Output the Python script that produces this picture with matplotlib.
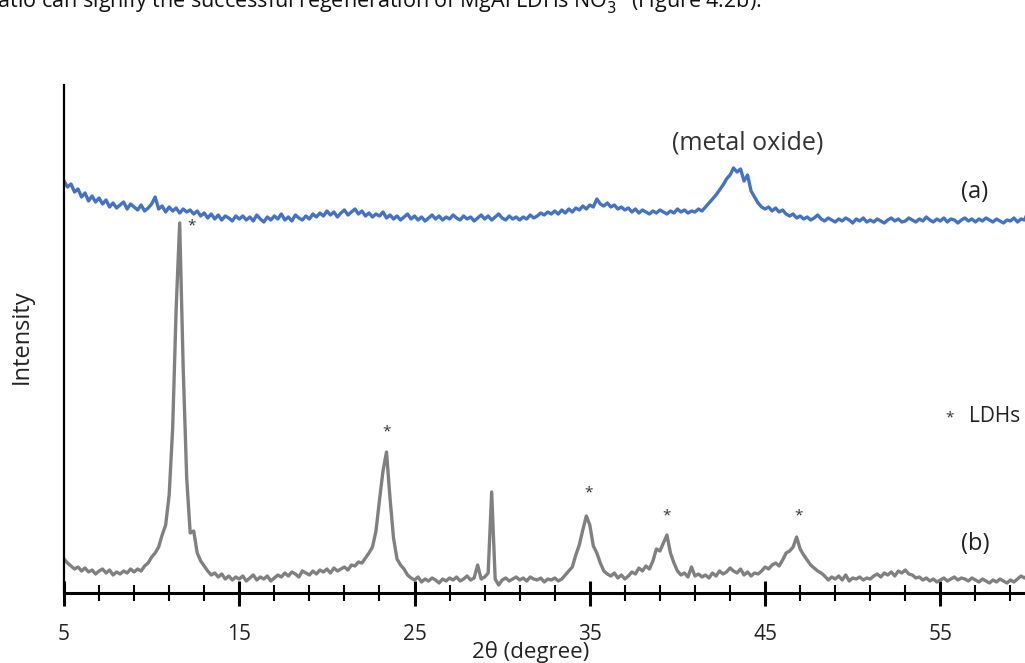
import numpy as np
import matplotlib
matplotlib.use("Agg")
import matplotlib.pyplot as plt
from matplotlib.ticker import FixedLocator

plt.rcParams["font.family"] = ["Open Sans", "DejaVu Sans"]

# 2-theta scan grid, 0.2 degree steps
two_theta = np.round(np.arange(5.0, 60.01, 0.2), 1)

# (b) MgAl LDHs pattern (a.u.)
ldh = [
    34, 30, 27, 24, 26, 22, 25, 21, 23, 19,
    22, 24, 20, 23, 18, 21, 19, 22, 20, 24,
    21, 24, 22, 27, 30, 36, 40, 46, 58, 68,
    98, 165, 285, 370, 225, 115, 60, 62, 40, 32,
    27, 22, 18, 20, 16, 19, 14, 17, 13, 16,
    14, 17, 12, 15, 18, 13, 16, 14, 17, 12,
    15, 18, 16, 20, 17, 21, 19, 16, 22, 20,
    18, 22, 19, 23, 21, 24, 20, 25, 22, 24,
    26, 23, 28, 27, 31, 30, 35, 40, 46, 62,
    93, 122, 141, 95, 55, 34, 28, 24, 18, 15,
    13, 16, 11, 14, 12, 15, 13, 10, 14, 12,
    15, 13, 16, 12, 14, 17, 13, 15, 28, 14,
    16, 20, 101, 14, 8, 13, 15, 12, 14, 16,
    13, 15, 12, 16, 14, 13, 15, 11, 14, 13,
    15, 12, 14, 18, 22, 26, 38, 48, 63, 77,
    68, 47, 40, 30, 22, 19, 17, 20, 15, 18,
    14, 17, 21, 19, 25, 22, 27, 24, 32, 44,
    42, 50, 58, 40, 30, 22, 18, 20, 16, 26,
    17, 19, 16, 18, 15, 20, 17, 22, 19, 21,
    25, 22, 20, 24, 18, 21, 17, 20, 19, 22,
    26, 24, 28, 30, 27, 33, 40, 42, 46, 56,
    44, 38, 33, 28, 25, 22, 20, 17, 13, 16,
    14, 17, 13, 18, 12, 15, 14, 16, 13, 15,
    14, 17, 19, 16, 20, 18, 21, 17, 22, 20,
    23, 19, 18, 15, 16, 13, 15, 12, 14, 11,
    13, 15, 12, 14, 16, 13, 15, 14, 12, 15,
    13, 11, 14, 12, 10, 13, 11, 14, 12, 10,
    13, 11, 14, 17, 15, 18,
]

# (a) calcined sample, metal oxide (a.u., offset)
oxide = [
    412, 406, 409, 401, 404, 396, 400, 392, 397, 391,
    395, 389, 393, 386, 390, 385, 388, 391, 384, 389,
    386, 383, 388, 382, 385, 389, 396, 384, 387, 381,
    386, 382, 385, 380, 384, 381, 383, 379, 382, 377,
    380, 375, 379, 374, 378, 373, 377, 375, 372, 377,
    374, 377, 373, 376, 372, 378, 374, 371, 376, 373,
    377, 374, 379, 373, 376, 372, 378, 375, 373, 377,
    374, 379, 376, 380, 377, 382, 378, 381, 376, 380,
    383, 378, 381, 384, 379, 382, 377, 380, 376, 379,
    377, 381, 375, 378, 374, 377, 373, 376, 379, 374,
    377, 373, 376, 372, 375, 378, 374, 377, 373, 376,
    374, 378, 375, 373, 377, 374, 376, 372, 375, 378,
    374, 377, 373, 376, 379, 375, 373, 377, 374, 376,
    373, 376, 374, 378, 375, 377, 380, 378, 381, 379,
    382, 379, 383, 380, 384, 381, 385, 383, 387, 384,
    388, 386, 394, 389, 387, 390, 386, 388, 384, 386,
    383, 385, 381, 384, 380, 383, 381, 379, 382, 380,
    383, 381, 379, 382, 380, 384, 381, 383, 380, 382,
    381, 384, 382, 386, 390, 394, 398, 403, 408, 414,
    418, 425, 421, 424, 412, 418, 402, 396, 390, 386,
    384, 386, 382, 385, 381, 383, 379, 377, 379, 375,
    377, 374, 376, 373, 375, 378, 374, 372, 375, 373,
    371, 374, 372, 375, 373, 370, 374, 372, 375, 371,
    373, 371, 374, 372, 370, 373, 375, 372, 374, 371,
    372, 375, 373, 371, 374, 372, 376, 373, 371, 374,
    372, 375, 371, 374, 373, 370, 373, 375, 372, 374,
    371, 374, 372, 375, 373, 371, 374, 372, 370, 373,
    372, 375, 371, 374, 373, 381,
]

# LDH reflections marked with an asterisk
star_x = [12.3, 23.4, 34.9, 39.4, 46.9]
star_y = [367, 161, 100, 77, 77]

major_ticks = [5, 15, 25, 35, 45, 55]
minor_ticks = list(range(7, 60, 2))

fig = plt.figure(figsize=(10.25, 6.63), dpi=100)
ax = fig.add_axes([64 / 1025, 70 / 663, 964 / 1025, 508 / 663])

ax.plot(two_theta, oxide, color="#4472C4", lw=2.4)
ax.plot(two_theta, ldh, color="#808080", lw=2.4)

for sx, sy in zip(star_x, star_y):
    ax.text(sx, sy, "*", ha="center", va="center", fontsize=11, color="#333333")

ax.text(44.0, 450, "(metal oxide)", ha="center", va="center", fontsize=18, color="#333333")
ax.text(56.95, 401, "(a)", ha="center", va="center", fontsize=17, color="#222222")
ax.text(57.0, 49, "(b)", ha="center", va="center", fontsize=17, color="#222222")
ax.text(55.5, 175, "*", ha="center", va="center", fontsize=11, color="#333333")
ax.text(56.65, 177, "LDHs", ha="left", va="center", fontsize=15, color="#222222")

ax.set_xlim(5, 60)
ax.set_ylim(0, 508)
ax.xaxis.set_major_locator(FixedLocator(major_ticks))
ax.xaxis.set_minor_locator(FixedLocator(minor_ticks))
ax.tick_params(axis="x", which="major", direction="inout", length=18, width=2.2,
               labelsize=15, pad=13, labelcolor="#222222")
ax.tick_params(axis="x", which="minor", direction="inout", length=12, width=1.5)
ax.set_yticks([])
for side in ["top", "right"]:
    ax.spines[side].set_visible(False)
ax.spines["bottom"].set_linewidth(2.2)
ax.spines["left"].set_linewidth(1.6)

fig.text(531 / 1025, 1 - 652 / 663, "2θ (degree)", ha="center", va="center", fontsize=16, color="#222222")
fig.text(22 / 1025, 1 - 337 / 663, "Intensity", ha="center", va="center", rotation=90,
         fontsize=17, color="#222222")

# running text of the page, cut at the top edge
fig.text(762 / 1025, 1 - 7 / 663,
         "ratio can signify the successful regeneration of MgAl LDHs NO$_3^-$ (Figure 4.2b).",
         ha="right", va="baseline", fontsize=15.5, color="#111111")

fig.savefig("out.png", dpi=100)
